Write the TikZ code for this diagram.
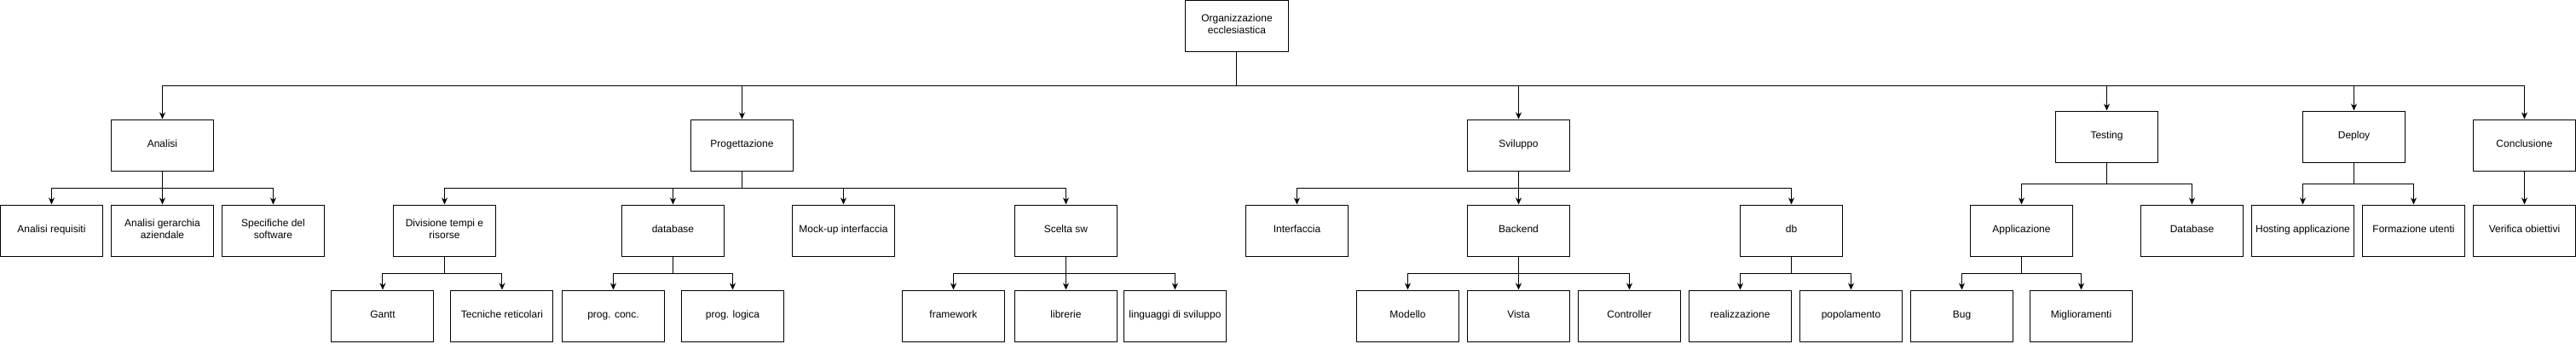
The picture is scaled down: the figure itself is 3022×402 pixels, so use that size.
\documentclass[tikz,border=0pt]{standalone}
\usepackage{fontspec}
\setmainfont{Liberation Sans}
\usetikzlibrary{positioning, arrows.meta}

\begin{document}
\begin{tikzpicture}[>={Stealth[length=8pt,width=7pt]},node distance=100pt,on grid,line width=1pt,
  task/.style={draw,minimum width=120pt,minimum height=60pt,inner sep=1pt,align=center,font=\fontsize{12}{14}\selectfont,
    execute at begin node=\strut,execute at end node=\strut},
  branch/.style={to path={(\tikztostart.south) -- ++(0,-#1) -| (\tikztotarget.north)}}]

   \useasboundingbox (-1451pt,-372pt) rectangle (1571pt,30pt);

   \node[task] (root) {Organizzazione\\ecclesiastica};

   % fasi
   \node[task] (analisi) [below left=140pt and 1260.5pt of root] {Analisi};
   \node[task] (progettazione) [below left=140pt and 580.5pt of root] {Progettazione};
   \node[task] (sviluppo) [below right=140pt and 330.5pt of root] {Sviluppo};
   \node[task] (testing) [below right=130pt and 1020.5pt of root] {Testing};
   \node[task] (deploy) [below right=130pt and 1310.5pt of root] {Deploy};
   \node[task] (conclusione) [below right=140pt and 1510.5pt of root] {Conclusione};

   % attivita
   \node[task] (requisiti) [below left=100pt and 130pt of analisi] {Analisi requisiti};
   \node[task] (gerarchia) [below=of analisi] {Analisi gerarchia\\aziendale};
   \node[task] (specifiche) [below right=100pt and 130pt of analisi] {Specifiche del\\software};
   \node[task] (divisione) [below left=100pt and 349pt of progettazione] {Divisione tempi e\\risorse};
   \node[task] (database) [below left=100pt and 81pt of progettazione] {database};
   \node[task] (mockup) [below right=100pt and 119pt of progettazione] {Mock-up interfaccia};
   \node[task] (sceltasw) [below right=100pt and 380pt of progettazione] {Scelta sw};
   \node[task] (interfaccia) [below left=100pt and 260pt of sviluppo] {Interfaccia};
   \node[task] (backend) [below=of sviluppo] {Backend};
   \node[task] (db) [below right=100pt and 320pt of sviluppo] {db};
   \node[task] (applicazione) [below left=110pt and 100pt of testing] {Applicazione};
   \node[task] (dbtest) [below right=110pt and 100pt of testing] {Database};
   \node[task] (hosting) [below left=110pt and 60pt of deploy] {Hosting applicazione};
   \node[task] (formazione) [below right=110pt and 70pt of deploy] {Formazione utenti};
   \node[task] (verifica) [below=of conclusione] {Verifica obiettivi};

   % sotto-attivita
   \node[task] (gantt) [below left=100pt and 72.5pt of divisione] {Gantt};
   \node[task] (reticolari) [below right=100pt and 67.5pt of divisione] {Tecniche reticolari};
   \node[task] (progconc) [below left=100pt and 70pt of database] {prog. conc.};
   \node[task] (proglogica) [below right=100pt and 70pt of database] {prog. logica};
   \node[task] (framework) [below left=100pt and 132pt of sceltasw] {framework};
   \node[task] (librerie) [below=of sceltasw] {librerie};
   \node[task] (linguaggi) [below right=100pt and 128pt of sceltasw] {linguaggi di sviluppo};
   \node[task] (modello) [below left=100pt and 130pt of backend] {Modello};
   \node[task] (vista) [below=of backend] {Vista};
   \node[task] (controller) [below right=100pt and 130pt of backend] {Controller};
   \node[task] (realizzazione) [below left=100pt and 60pt of db] {realizzazione};
   \node[task] (popolamento) [below right=100pt and 70pt of db] {popolamento};
   \node[task] (bug) [below left=100pt and 70pt of applicazione] {Bug};
   \node[task] (miglioramenti) [below right=100pt and 70pt of applicazione] {Miglioramenti};

   \path[->]
    (root) edge[branch=40pt] (analisi)
    (root) edge[branch=40pt] (progettazione)
    (root) edge[branch=40pt] (sviluppo)
    (root) edge[branch=40pt] (testing)
    (root) edge[branch=40pt] (deploy)
    (root) edge[branch=40pt] (conclusione)
    (analisi) edge[branch=20pt] (requisiti)
    (analisi) edge[branch=20pt] (gerarchia)
    (analisi) edge[branch=20pt] (specifiche)
    (progettazione) edge[branch=20pt] (divisione)
    (progettazione) edge[branch=20pt] (database)
    (progettazione) edge[branch=20pt] (mockup)
    (progettazione) edge[branch=20pt] (sceltasw)
    (sviluppo) edge[branch=20pt] (interfaccia)
    (sviluppo) edge[branch=20pt] (backend)
    (sviluppo) edge[branch=20pt] (db)
    (testing) edge[branch=25pt] (applicazione)
    (testing) edge[branch=25pt] (dbtest)
    (deploy) edge[branch=25pt] (hosting)
    (deploy) edge[branch=25pt] (formazione)
    (conclusione) edge[branch=20pt] (verifica)
    (divisione) edge[branch=20pt] (gantt)
    (divisione) edge[branch=20pt] (reticolari)
    (database) edge[branch=20pt] (progconc)
    (database) edge[branch=20pt] (proglogica)
    (sceltasw) edge[branch=20pt] (framework)
    (sceltasw) edge[branch=20pt] (librerie)
    (sceltasw) edge[branch=20pt] (linguaggi)
    (backend) edge[branch=20pt] (modello)
    (backend) edge[branch=20pt] (vista)
    (backend) edge[branch=20pt] (controller)
    (db) edge[branch=20pt] (realizzazione)
    (db) edge[branch=20pt] (popolamento)
    (applicazione) edge[branch=20pt] (bug)
    (applicazione) edge[branch=20pt] (miglioramenti);

\end{tikzpicture}
\end{document}
